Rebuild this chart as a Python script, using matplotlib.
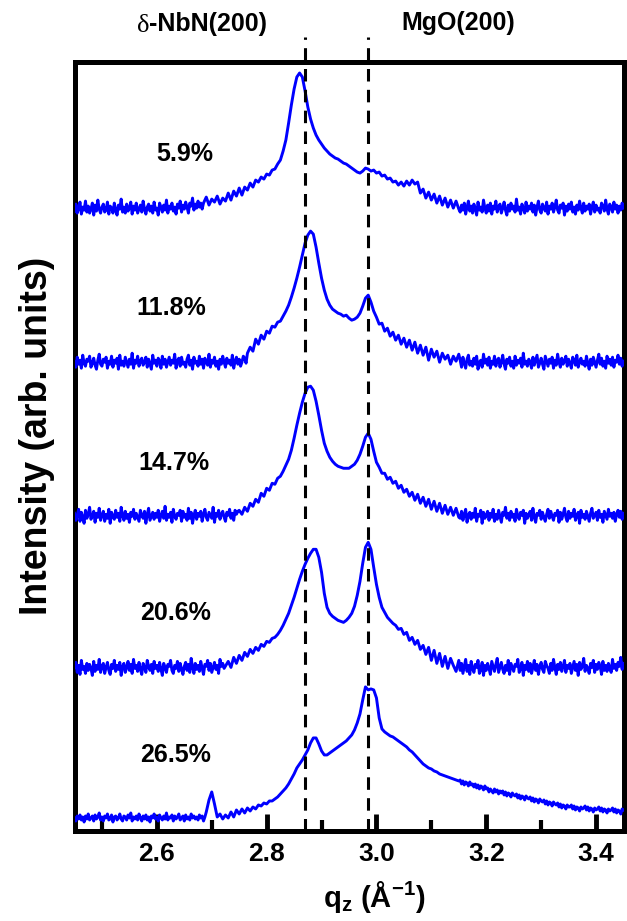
import numpy as np
import matplotlib
matplotlib.use('Agg')
import matplotlib.pyplot as plt
from matplotlib.ticker import MultipleLocator, FormatStrFormatter

plt.rcParams['font.family'] = ['Liberation Sans', 'DejaVu Sans']
plt.rcParams['mathtext.fontset'] = 'custom'
plt.rcParams['mathtext.rm'] = 'Liberation Sans:bold'
plt.rcParams['mathtext.it'] = 'Liberation Sans:bold'
plt.rcParams['mathtext.bf'] = 'Liberation Sans:bold'
plt.rcParams['lines.scale_dashes'] = False

# ======================= data =======================
sample_labels = ['5.9%', '11.8%', '14.7%', '20.6%', '26.5%']
stack_offsets = [615, 461, 307, 155, 8.5]
reference_peaks = [2.87, 2.985]
peak_names = ['NbN(200)', 'MgO(200)']

# q ranges (start, stop, n points) of the three scan segments of every sample:
# dense left background, peak region, dense right background
q_left_5_9, q_mid_5_9, q_right_5_9 = (2.45, 2.6825, 94), (2.685, 3.15, 94), (3.1525, 3.45, 120)
q_left_11_8, q_mid_11_8, q_right_11_8 = (2.45, 2.7625, 126), (2.765, 3.15, 78), (3.1525, 3.45, 120)
q_left_14_7, q_mid_14_7, q_right_14_7 = (2.45, 2.7475, 120), (2.75, 3.15, 81), (3.1525, 3.45, 120)
q_left_20_6, q_mid_20_6, q_right_20_6 = (2.45, 2.7225, 110), (2.73, 3.15, 85), (3.1525, 3.45, 120)
q_left_26_5, q_mid_26_5, q_right_26_5 = (2.45, 2.6875, 96), (2.69, 3.15, 93), (3.1525, 3.45, 120)

# ---- 5.9 % ----
left_5_9 = [
    4,11,2,7,13,1,8,5,14,3, 9,2,6,12,0,10,4,15,6,2, 8,11,3,5,13,1,9,7,2,12,
    5,0,10,6,16,3,8,2,11,4, 7,13,1,9,5,12,2,6,10,3, 14,6,1,8,11,4,9,2,13,5,
    7,0,12,8,3,10,5,15,2,9, 6,12,4,8,1,11,7,14,3,10, 6,13,8,2,12,9,17,5,11,7,
    14,8,12,6]
mid_5_9 = [
    12,18,10,16,13,19,11,17,14,22, 15,24,19,27,20,28,25,32,28,35,
    33,38,36,41,40,45,46,51,55,64, 75,92,110,126,138,142,138,124,108,96,
    87,80,75,71,67,64,61,59,57,56, 54,52,51,49,47,45,43,42,44,47,
    46,44,45,42,43,39,40,36,37,33, 34,30,33,29,34,30,35,31,33,22,
    26,17,23,15,21,12,19,10,17,8, 15,7,14,6]
right_5_9 = [
    3,10,5,12,1,8,14,4,9,2, 11,6,0,13,5,8,3,15,7,2, 10,4,12,1,9,6,14,3,8,11,
    2,7,13,5,0,10,4,12,6,9, 3,16,5,8,1,11,7,2,13,4, 9,6,12,3,10,0,8,14,5,2,
    11,7,4,13,1,9,6,12,3,8, 15,5,2,10,7,12,0,9,4,11, 6,13,3,8,1,10,5,14,7,2,
    12,4,9,6,11,1,8,13,3,10, 5,7,2,12,9,4,15,6,1,11, 8,3,13,6,10,2,9,5,12,7]

# ---- 11.8 % ----
left_11_8 = [
    7,2,12,5,9,1,14,6,3,10, 8,13,2,6,11,4,0,9,15,5, 3,10,7,12,1,8,5,13,2,9,
    6,11,0,14,4,8,3,12,7,2, 10,5,16,1,9,6,13,3,8,11, 4,7,12,2,10,5,0,14,6,9,
    3,11,8,1,13,5,10,2,7,12, 4,9,6,15,1,8,11,3,12,5, 7,2,10,14,4,9,0,12,6,8,
    3,13,5,10,1,11,7,4,15,2, 9,6,12,3,8,0,10,5,13,7, 2,11,6,9,4,14,1,8,12,5,
    10,3,7,13,11,6]
mid_11_8 = [
    16,22,18,30,25,34,30,38,36,43, 42,47,48,53,58,64,72,81,91,102,
    114,126,134,138,135,122,106,91,79,70, 64,60,58,56,55,53,54,51,49,50,
    52,56,63,71,74,67,58,52,45,46, 38,41,33,37,29,34,25,31,22,29,
    19,27,16,24,14,22,9,20,12,18, 7,16,10,14,5,13,8,15]
right_11_8 = [
    9,2,12,6,1,10,14,4,8,3, 11,5,13,0,7,9,2,15,6,10, 4,12,1,8,5,13,3,9,11,2,
    7,14,5,0,10,6,12,3,8,1, 13,4,9,6,11,2,16,5,8,3, 10,7,1,12,4,9,14,2,6,11,
    5,0,13,8,3,10,6,12,1,9, 4,15,7,2,11,5,8,13,3,10, 6,1,12,9,4,14,2,7,11,5,
    8,3,13,6,0,10,4,12,7,2, 9,15,5,11,3,8,1,13,6,10, 4,12,2,9,7,14,5,11,3,8]

# ---- 14.7 % ----
left_14_7 = [
    10,3,8,14,2,11,6,0,13,5, 9,16,4,7,12,1,10,6,15,3, 8,12,2,9,5,14,0,11,7,4,
    13,6,10,2,16,8,3,12,5,9, 1,11,7,14,4,10,6,2,13,8, 5,12,0,9,15,3,7,11,4,10,
    6,13,2,8,12,5,17,3,9,6, 11,1,14,7,4,10,8,13,2,12, 6,9,3,15,5,11,0,8,13,4,
    10,7,12,2,9,14,6,3,11,8, 5,16,1,10,7,13,4,9,12,6, 2,11,8,14,5,10,3,13,9,12]
mid_14_7 = [
    13,9,16,12,20,17,24,21,30,27, 35,33,40,39,45,47,52,58,64,73,
    85,98,110,121,130,136,137,133,122,108, 93,80,72,66,62,59,57,56,55,55,
    55,57,59,63,69,77,86,90,84,72, 61,56,50,50,44,46,40,42,35,38,
    31,34,27,31,23,29,20,26,17,24, 14,22,12,20,10,18,9,16,8,15, 6]
right_14_7 = [
    5,12,3,9,14,1,8,11,4,10, 6,15,2,9,7,13,0,11,5,8, 12,3,10,6,14,2,9,4,13,7,
    1,11,8,16,5,10,3,12,6,9, 2,14,7,4,11,8,13,0,10,5, 9,12,3,15,6,1,10,8,13,4,
    11,6,2,9,14,5,12,7,3,10, 8,13,1,11,4,9,15,6,2,12, 5,10,7,14,3,8,11,0,13,6,
    9,4,12,7,2,10,15,5,8,11, 3,13,6,9,1,12,8,4,14,7, 10,5,11,2,9,13,6,12,4,10]

# ---- 20.6 % ----
left_20_6 = [
    8,13,3,10,1,15,6,9,2,12, 5,11,7,0,14,4,10,6,16,3, 9,12,2,8,13,5,1,11,7,15,
    4,10,6,13,0,9,12,3,8,14, 5,11,2,16,7,10,4,13,6,1, 12,8,3,15,9,5,11,2,14,7,
    10,4,13,6,0,12,8,3,11,9, 15,5,2,10,7,14,4,12,6,1, 9,13,5,11,3,17,8,2,12,6,
    10,4,14,7,1,11,9,15,5,12, 3,8,13,6,10,2,16,9,12,7]
mid_20_6 = [
    14,8,18,12,20,15,23,19,26,22, 28,25,31,29,34,33,37,38,41,45,
    50,56,62,70,78,87,96,104,111,117, 122,126,126,118,103,82,68,62,59,57,
    55,54,53,55,58,62,69,80,94,112, 128,133,126,108,91,78,68,63,58,55,
    52,50,46,47,41,43,35,38,31,35, 26,30,21,28,15,25,12,22,9,19, 7,17,10,4,15]
right_20_6 = [
    5,12,2,9,16,4,10,1,14,7, 3,11,8,15,2,6,13,0,10,5, 12,7,1,14,9,4,11,17,3,8,
    13,6,2,10,5,15,1,12,8,4, 11,9,16,3,7,13,0,10,6,14, 4,12,2,8,15,5,11,1,9,13,
    6,3,14,10,7,2,12,5,16,8, 1,11,6,13,4,9,15,3,10,7, 12,2,8,14,5,11,0,13,6,9,
    17,4,10,7,2,12,8,15,3,11, 6,13,9,1,14,5,10,4,12,8, 3,16,7,11,5,13,9,18,6,12]

# ---- 26.5 % ----
left_26_5 = [
    4,1,6,3,7,2,5,0,6,3, 8,2,4,6,1,7,3,5,9,2, 5,1,6,4,8,2,3,7,0,5,
    6,2,4,8,3,1,6,5,2,7, 4,9,1,5,3,6,2,8,4,1, 6,3,7,2,5,0,6,4,8,3,
    5,1,7,4,2,6,3,9,2,5, 4,7,1,6,3,5,8,2,4,6, 1,7,3,5,2,8,4,6,3,5,
    2,7,4,6,1,5]
mid_26_5 = [
    10,22,30,18,5,8,3,7,4,10, 5,12,8,13,9,14,11,15,13,17,
    16,19,18,21,21,23,25,28,31,34, 38,43,48,54,58,62,67,72,79,84,
    84,78,71,67,67,69,71,73,75,77, 79,81,84,87,92,99,108,122,135,132,
    133,132,124,104,93,90,88,86,85,83, 81,79,77,75,72,70,67,64,61,58,
    56,54,53,51,50,48,47,46,45,44, 43,42,41]
right_26_5 = [
    42,38,41,37,40,39,36,40,37,38, 35,38,34,37,33,36,35,32,36,33,
    34,30,33,31,29,33,30,32,28,31, 29,31,27,30,26,29,28,25,29,27,
    26,28,24,27,23,26,25,22,26,24, 23,25,21,24,20,23,22,19,23,21,
    20,22,18,21,17,20,19,16,20,18, 17,19,15,18,14,17,16,13,17,15,
    15,17,13,16,12,15,14,11,15,13, 14,16,12,15,11,14,13,10,14,12,
    13,15,11,14,10,13,12,9,13,11, 12,14,10,13,9,12,11,8,13,12]

scans = [
    [(q_left_5_9, left_5_9), (q_mid_5_9, mid_5_9), (q_right_5_9, right_5_9)],
    [(q_left_11_8, left_11_8), (q_mid_11_8, mid_11_8), (q_right_11_8, right_11_8)],
    [(q_left_14_7, left_14_7), (q_mid_14_7, mid_14_7), (q_right_14_7, right_14_7)],
    [(q_left_20_6, left_20_6), (q_mid_20_6, mid_20_6), (q_right_20_6, right_20_6)],
    [(q_left_26_5, left_26_5), (q_mid_26_5, mid_26_5), (q_right_26_5, right_26_5)],
]

# label anchor positions (q, y baseline) -- layout only
label_pos = [(2.6505, 668.8), (2.627, 515.5), (2.632, 360.5), (2.634, 210.5), (2.634, 68.8)]

# ======================= figure =======================
W, H = 627, 921
fig = plt.figure(figsize=(W / 100, H / 100), dpi=100)
ax = fig.add_axes([74.5 / W, (H - 830.5) / H, 549 / W, 768 / H])

for segs, off in zip(scans, stack_offsets):
    qs, ys = [], []
    for (q0, q1, n), vals in segs:
        assert len(vals) == n, (q0, len(vals), n)
        qs.append(np.linspace(q0, q1, n))
        ys.append(np.asarray(vals, dtype=float))
    ax.plot(np.concatenate(qs), np.concatenate(ys) + off, color='#0000FF',
            lw=2.1, zorder=3, solid_joinstyle='round')

for qp in reference_peaks:
    ax.axvline(qp, ymin=0, ymax=1.0326, color='black', lw=2.2,
               dashes=(9, 6), clip_on=False, zorder=4)

for lab, (xq, yb) in zip(sample_labels, label_pos):
    ax.text(xq, yb, lab, ha='center', va='baseline', fontsize=18,
            fontweight='bold', zorder=5)

ax.set_xlim(2.45, 3.45)
ax.set_ylim(0, 767.5)
ax.xaxis.set_major_locator(MultipleLocator(0.2))
ax.xaxis.set_minor_locator(MultipleLocator(0.1))
ax.xaxis.set_major_formatter(FormatStrFormatter('%.1f'))
ax.tick_params(axis='x', which='major', direction='in', length=12, width=3.5,
               labelsize=19, pad=8, top=False)
ax.tick_params(axis='x', which='minor', direction='in', length=8, width=3.0,
               top=False)
ax.set_yticks([])
for lbl in ax.get_xticklabels():
    lbl.set_fontweight('bold')
for sp in ax.spines.values():
    sp.set_linewidth(3.6)

# top peak labels
fig.text(149 / W, 1 - 31.5 / H, '-' + peak_names[0], ha='left', va='baseline',
         fontsize=18, fontweight='bold')
fig.text(149 / W, 1 - 31.5 / H, 'δ', ha='right', va='baseline',
         fontsize=19, family=['Liberation Serif', 'DejaVu Serif'])
fig.text(458 / W, 1 - 30 / H, peak_names[1], ha='center', va='baseline',
         fontsize=18, fontweight='bold')

# axis labels
fig.text(374.7 / W, 1 - 906.7 / H, r'q$_{z}$ (Å$^{-1}$)', ha='center',
         va='baseline', fontsize=21, fontweight='bold')
fig.text(37 / W, 1 - 436 / H, 'Intensity (arb. units)', rotation=90,
         ha='center', va='center', fontsize=27, fontweight='bold')

fig.savefig('out.png', dpi=100)
